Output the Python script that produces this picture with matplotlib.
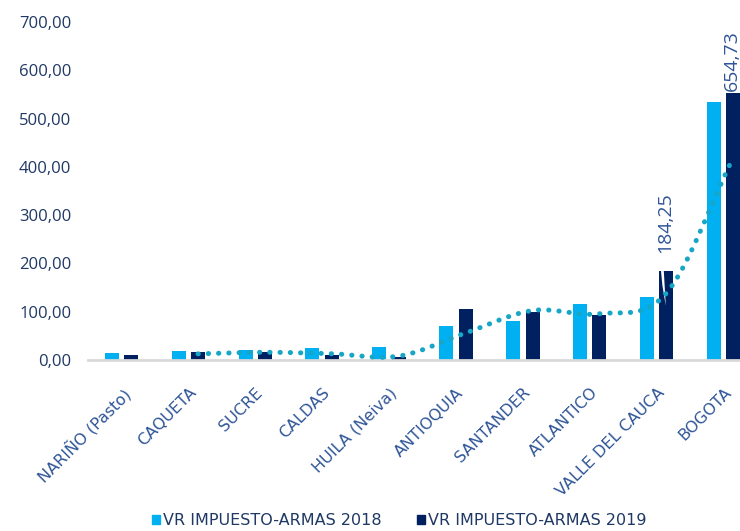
import numpy as np
import pandas as pd
import matplotlib
matplotlib.use("Agg")
import matplotlib.pyplot as plt
from matplotlib.patches import Patch, Polygon

# datos
departamentos = ["NARIÑO (Pasto)", "CAQUETA", "SUCRE", "CALDAS", "HUILA (Neiva)",
                 "ANTIOQUIA", "SANTANDER", "ATLANTICO", "VALLE DEL CAUCA", "BOGOTA"]
vr_2018 = [14, 19, 21, 24, 27, 70, 80, 117, 130, 534]
vr_2019 = [9.5, 16, 16, 10, 6, 106, 99, 92.5, 184.25, 654.73]
etiquetas_2019 = {8: "184,25", 9: "654,73"}
tope_barra = 553  # la barra de Bogota aparece recortada

AZUL_CLARO = "#00B0F0"
AZUL_OSCURO = "#002060"
TEAL = "#17A6C6"
TXT_EJE = "#1F3864"
TXT_CAT = "#2F5597"


def catmull_rom(x, y, n=20):
    # suavizado tipo Excel para la linea de tendencia
    x = np.asarray(x, float)
    y = np.asarray(y, float)
    px = np.concatenate([[2 * x[0] - x[1]], x, [2 * x[-1] - x[-2]]])
    py = np.concatenate([[2 * y[0] - y[1]], y, [2 * y[-1] - y[-2]]])
    xs, ys = [], []
    t = np.linspace(0, 1, n, endpoint=False)
    for i in range(1, len(px) - 2):
        for arr, out in ((px, xs), (py, ys)):
            p0, p1, p2, p3 = arr[i - 1:i + 3]
            out.extend(0.5 * (2 * p1 + (-p0 + p2) * t
                              + (2 * p0 - 5 * p1 + 4 * p2 - p3) * t ** 2
                              + (-p0 + 3 * p1 - 3 * p2 + p3) * t ** 3))
    xs.append(x[-1])
    ys.append(y[-1])
    return np.array(xs), np.array(ys)


fig = plt.figure(figsize=(7.4, 5.31), dpi=100)
ax = fig.add_axes([88 / 740, 1 - 360 / 531, 669 / 740, 338 / 531])

x = np.arange(len(departamentos))
ancho = 0.21
desp = 0.145

ax.bar(x - desp, vr_2018, ancho, color=AZUL_CLARO, zorder=2)
alturas_2019 = np.minimum(vr_2019, tope_barra)
barras = ax.bar(x + desp, alturas_2019, ancho, color=AZUL_OSCURO, zorder=2)

# marca de corte en la barra de Valle del Cauca
b = barras[8]
x0, w, h = b.get_x(), b.get_width(), b.get_height()
ax.add_patch(Polygon([(x0 + 0.12 * w, h), (x0 + 0.32 * w, h),
                      (x0 + 0.46 * w, h - 72), (x0 + 0.22 * w, h - 30)],
                     closed=True, facecolor="white", edgecolor="none", zorder=3))

# media movil (2 periodos) de 2019
media = pd.Series(vr_2019).rolling(2).mean().to_numpy()
xm = x[1:] + desp
xs, ys = catmull_rom(xm, media[1:])
ax.plot(xs, ys, color=TEAL, lw=3.6, linestyle=(0, (0.05, 2.0)),
        dash_capstyle="round", zorder=4)

separacion = {8: 13, 9: 1.5}
for i, txt in etiquetas_2019.items():
    ax.annotate(txt, (x[i] + desp, alturas_2019[i]), xytext=(-1, separacion[i]),
                textcoords="offset points", rotation=90, ha="center",
                va="bottom", fontsize=14, color=TXT_CAT, family="Open Sans",
                annotation_clip=False)

ax.set_xlim(-0.5, 9.5)
ax.set_ylim(0, 700)
ax.set_yticks(np.arange(0, 701, 100))
ax.set_yticklabels([f"{v:,.2f}".replace(".", ",") for v in np.arange(0, 701, 100)],
                   family="Open Sans", fontsize=12, color=TXT_EJE)
ax.tick_params(axis="y", length=0, pad=12)
ax.set_xticks(x)
ax.set_xticklabels(departamentos, rotation=45, ha="right", va="top",
                   rotation_mode="anchor", fontsize=11.5, color=TXT_CAT)
ax.tick_params(axis="x", length=0, pad=18)

for lado in ["top", "right", "left"]:
    ax.spines[lado].set_visible(False)
ax.spines["bottom"].set_color("#D9D9D9")
ax.spines["bottom"].set_linewidth(2)

manijas = [Patch(color=AZUL_CLARO), Patch(color=AZUL_OSCURO)]
fig.legend(manijas, ["VR IMPUESTO-ARMAS 2018", "VR IMPUESTO-ARMAS 2019"],
           loc="center", bbox_to_anchor=(0.54, 0.02), ncol=2, frameon=False,
           fontsize=11.5, labelcolor=TXT_EJE, handlelength=0.5,
           handleheight=0.5, handletextpad=0.2, columnspacing=2.2)

fig.savefig("out.png", dpi=100)
